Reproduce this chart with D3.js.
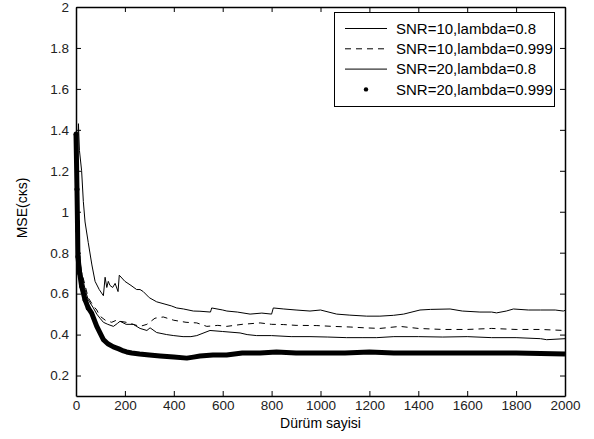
<!DOCTYPE html>
<html>
<head>
<meta charset="utf-8">
<script src="https://cdn.jsdelivr.net/npm/d3@7"></script>
<style>
  body { margin: 0; background: #fff; }
  text { font-family: Arial, "Liberation Sans", sans-serif; }
</style>
</head>
<body>
<div class="chart"></div>
<script>
let w = 594;
let h = 439;
let margin = {left: 76, right: 29, top: 7, bottom: 43};

// series values
let nA = [0, 5, 10, 14, 23, 30, 37, 50, 65, 78, 95, 112, 119, 126, 132, 139, 150, 160, 172, 177, 200, 225, 248, 262, 275, 300, 330, 360, 390, 412, 440, 480, 507, 550, 555, 600, 617, 660, 712, 760, 800, 807, 850, 900, 957, 1000, 1066, 1120, 1189, 1243, 1298, 1340, 1407, 1450, 1530, 1580, 1652, 1700, 1720, 1760, 1789, 1850, 1900, 1960, 1993, 2000];
let vA = [0.9, 1.2, 1.43, 1.3, 1.2, 1.05, 0.95, 0.85, 0.74, 0.66, 0.62, 0.59, 0.68, 0.63, 0.66, 0.64, 0.63, 0.65, 0.61, 0.69, 0.66, 0.64, 0.62, 0.62, 0.61, 0.58, 0.56, 0.55, 0.54, 0.53, 0.525, 0.515, 0.514, 0.51, 0.53, 0.52, 0.515, 0.51, 0.50, 0.505, 0.50, 0.53, 0.525, 0.52, 0.515, 0.52, 0.50, 0.495, 0.49, 0.49, 0.494, 0.50, 0.52, 0.523, 0.525, 0.515, 0.51, 0.51, 0.506, 0.515, 0.525, 0.52, 0.52, 0.52, 0.515, 0.518];

let nB = [0, 8, 20, 37, 50, 71, 85, 98, 120, 146, 165, 180, 205, 234, 262, 290, 323, 357, 400, 450, 494, 535, 580, 616, 680, 753, 800, 848, 900, 985, 1050, 1121, 1180, 1243, 1325, 1400, 1500, 1600, 1700, 1800, 1900, 2000];
let vB = [1.0, 0.85, 0.72, 0.64, 0.58, 0.54, 0.52, 0.49, 0.47, 0.46, 0.47, 0.465, 0.46, 0.45, 0.44, 0.45, 0.48, 0.486, 0.47, 0.46, 0.457, 0.44, 0.445, 0.44, 0.45, 0.457, 0.45, 0.449, 0.445, 0.444, 0.44, 0.437, 0.433, 0.43, 0.44, 0.43, 0.425, 0.425, 0.43, 0.425, 0.425, 0.42];

let nC = [0, 8, 20, 37, 50, 71, 85, 98, 112, 130, 153, 170, 180, 205, 234, 262, 290, 303, 330, 371, 400, 438, 470, 494, 548, 600, 671, 700, 739, 800, 880, 957, 1030, 1107, 1170, 1230, 1300, 1400, 1500, 1600, 1700, 1800, 1900, 1925, 2000];
let vC = [1.1, 0.9, 0.72, 0.62, 0.57, 0.53, 0.50, 0.48, 0.46, 0.45, 0.44, 0.455, 0.465, 0.45, 0.45, 0.43, 0.42, 0.433, 0.41, 0.40, 0.395, 0.39, 0.39, 0.395, 0.42, 0.415, 0.408, 0.40, 0.395, 0.395, 0.39, 0.39, 0.388, 0.385, 0.385, 0.385, 0.39, 0.39, 0.388, 0.39, 0.385, 0.385, 0.38, 0.375, 0.38];

let nD = [0, 2, 4, 6, 8, 15, 23, 37, 50, 64, 85, 112, 130, 153, 175, 194, 207, 228, 260, 300, 344, 400, 453, 480, 507, 560, 616, 680, 753, 820, 900, 1000, 1100, 1200, 1300, 1400, 1500, 1600, 1700, 1800, 1900, 2000];
let vD = [1.38, 1.25, 1.11, 0.95, 0.78, 0.70, 0.636, 0.57, 0.53, 0.505, 0.44, 0.375, 0.355, 0.34, 0.33, 0.32, 0.315, 0.31, 0.305, 0.30, 0.295, 0.29, 0.285, 0.29, 0.295, 0.30, 0.30, 0.31, 0.31, 0.315, 0.31, 0.31, 0.31, 0.315, 0.31, 0.31, 0.31, 0.31, 0.31, 0.31, 0.307, 0.305];

let labels = ["SNR=10,lambda=0.8", "SNR=10,lambda=0.999", "SNR=20,lambda=0.8", "SNR=20,lambda=0.999"];
let xTicks = [0, 200, 400, 600, 800, 1000, 1200, 1400, 1600, 1800, 2000];
let yTicks = [0.2, 0.4, 0.6, 0.8, 1, 1.2, 1.4, 1.6, 1.8, 2];

const svg = d3.select(".chart")
              .append("svg")
              .attr("width", w)
              .attr("height", h)

const xScale = d3.scaleLinear()
                 .domain([0, 2000])
                 .range([margin.left, w - margin.right])
const yScale = d3.scaleLinear()
                 .domain([0.1, 2])
                 .range([h - margin.bottom, margin.top])

let zip = (ns, vs) => ns.map((n, i) => ({n: n, v: vs[i]}))
let line = d3.line().x((d) => xScale(d.n)).y((d) => yScale(d.v))

let series = [
  {data: zip(nA, vA), dash: null, width: 1},
  {data: zip(nB, vB), dash: "6,5", width: 1},
  {data: zip(nC, vC), dash: null, width: 1},
  {data: zip(nD, vD), dash: null, width: 5}
]

series.forEach((s) => {
  svg.append("path")
     .datum(s.data)
     .attr("d", line)
     .attr("fill", "none")
     .attr("stroke", "#000")
     .attr("stroke-width", s.width)
     .attr("stroke-dasharray", s.dash)
     .attr("stroke-linejoin", "round")
})

// dot markers where the thick series is still steep
svg.selectAll(".dot")
   .data(series[3].data.filter((d) => d.n < 60))
   .enter()
   .append("circle")
   .attr("cx", (d) => xScale(d.n))
   .attr("cy", (d) => yScale(d.v))
   .attr("r", 2.5)
   .attr("fill", "#000")

// axes with inward ticks on all four sides
let x0 = xScale.range()[0], x1 = xScale.range()[1];
let y0 = yScale.range()[0], y1 = yScale.range()[1];

svg.append("g")
   .attr("transform", "translate(0," + y0 + ")")
   .call(d3.axisBottom(xScale).tickValues(xTicks).tickSizeInner(-5).tickSizeOuter(0).tickPadding(4).tickFormat(d3.format("d")))
svg.append("g")
   .attr("transform", "translate(0," + y1 + ")")
   .call(d3.axisTop(xScale).tickValues(xTicks).tickSizeInner(-5).tickSizeOuter(0).tickFormat(""))
svg.append("g")
   .attr("transform", "translate(" + x0 + ",0)")
   .call(d3.axisLeft(yScale).tickValues(yTicks).tickSizeInner(-5).tickSizeOuter(0).tickPadding(7).tickFormat(d3.format("~g")))
svg.append("g")
   .attr("transform", "translate(" + x1 + ",0)")
   .call(d3.axisRight(yScale).tickValues(yTicks).tickSizeInner(-5).tickSizeOuter(0).tickFormat(""))

svg.selectAll(".domain").attr("stroke", "#000").attr("stroke-width", 1.5)
svg.selectAll(".tick line").attr("stroke", "#000")
svg.selectAll(".tick text").attr("font-size", 13.5).attr("fill", "#222")

svg.append("text")
   .attr("x", (x0 + x1) / 2)
   .attr("y", 428)
   .attr("text-anchor", "middle")
   .attr("font-size", 14)
   .text("Dürüm sayisi")

svg.append("text")
   .attr("transform", "translate(27,208) rotate(-90)")
   .attr("text-anchor", "middle")
   .attr("font-size", 14)
   .text("MSE(cκs)")

// legend
svg.append("rect")
   .attr("x", 334.5).attr("y", 12.5)
   .attr("width", 220).attr("height", 94)
   .attr("fill", "#fff")
   .attr("stroke", "#000")
   .attr("stroke-width", 1)
svg.selectAll(".legline")
   .data(labels)
   .enter()
   .append("line")
   .attr("x1", 345).attr("x2", 387)
   .attr("y1", (d, i) => 28.5 + i * 20.3)
   .attr("y2", (d, i) => 28.5 + i * 20.3)
   .attr("stroke", (d, i) => i === 3 ? "none" : "#000")
   .attr("stroke-dasharray", (d, i) => i === 1 ? "6,5" : null)
svg.append("circle")
   .attr("cx", 366).attr("cy", 28.5 + 3 * 20.3)
   .attr("r", 2.2).attr("fill", "#000")
svg.selectAll(".leglabel")
   .data(labels)
   .enter()
   .append("text")
   .attr("x", 396)
   .attr("y", (d, i) => 28.5 + i * 20.3)
   .attr("dy", "0.35em")
   .attr("font-size", 15)
   .text((d) => d)
</script>
</body>
</html>
